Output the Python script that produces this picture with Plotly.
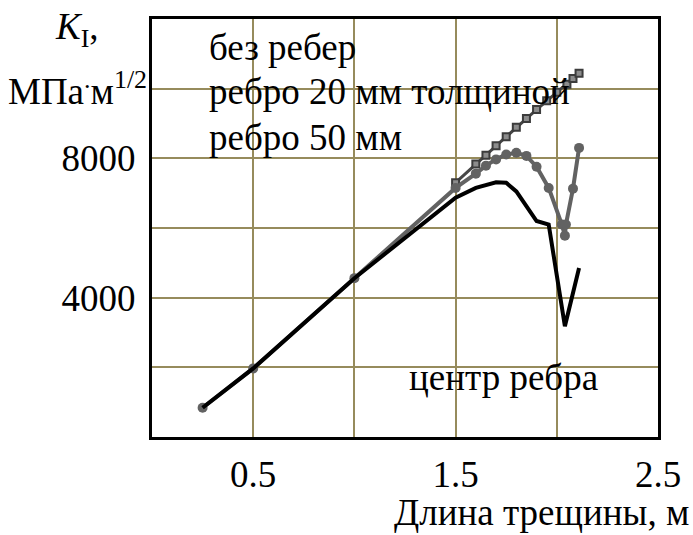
import plotly.graph_objects as go

# Crack length, m
x_no_rib = [1.5, 1.6, 1.65, 1.7, 1.75, 1.8, 1.85, 1.9, 1.95, 2.0, 2.05, 2.08, 2.11]
k_no_rib = [7300, 7840, 8090, 8360, 8620, 8890, 9140, 9400, 9650, 9900, 10125, 10290, 10440]

x_rib20 = [0.25, 0.5, 1.0, 1.5, 1.6, 1.65, 1.7, 1.75, 1.8, 1.85, 1.9, 1.96, 2.025, 2.04, 2.045, 2.08, 2.11]
k_rib20 = [840, 1970, 4560, 7150, 7560, 7790, 7970, 8110, 8160, 8070, 7760, 7150, 6100, 5780, 6100, 7130, 8300]

x_rib50 = [0.25, 0.5, 1.0, 1.5, 1.6, 1.7, 1.75, 1.8, 1.9, 1.96, 2.04, 2.11]
k_rib50 = [840, 1970, 4560, 6870, 7150, 7310, 7300, 7050, 6200, 6100, 3180, 4850]

x_ticks = [0.5, 1.0, 1.5, 2.0, 2.5]
x_ticktext = ["0.5", " ", "1.5", " ", "2.5"]
y_ticks = [2000, 4000, 6000, 8000, 10000, 12000]
y_ticktext = [" ", "4000", " ", "8000", " ", " "]

series_labels = ["без ребер", "ребро 20 мм толщиной", "ребро 50 мм"]
center_label = "центр ребра"
x_title = "Длина трещины, м"
y_title_1 = "<i>K</i><sub>I</sub>,"
y_title_2 = "МПа<sup>.</sup>м<sup>1/2</sup>"

FONT = "Liberation Serif"
FS = 37
GRID = "#968b5c"

L, R, T, B = 152, 35, 19, 98
W = 693 - L - R
H = 535 - T - B


def px(xp):
    return (xp - L) / W


def py(yp):
    return 1 - (yp - T) / H


fig = go.Figure()
fig.add_trace(go.Scatter(
    x=x_no_rib, y=k_no_rib, mode="lines+markers",
    line=dict(color="#474747", width=3),
    marker=dict(symbol="square", size=7, color="#8c8c8c", line=dict(color="#3c3c3c", width=2)),
    showlegend=False))
fig.add_trace(go.Scatter(
    x=x_rib20, y=k_rib20, mode="lines+markers",
    line=dict(color="#626262", width=4),
    marker=dict(symbol="circle", size=10, color="#626262"),
    showlegend=False))
fig.add_trace(go.Scatter(
    x=x_rib50, y=k_rib50, mode="lines",
    line=dict(color="black", width=4),
    showlegend=False))

tf = dict(family=FONT, size=FS, color="black")
for i, t in enumerate(series_labels):
    fig.add_annotation(x=px(207), y=py(47 + 45 * i), xref="paper", yref="paper", text=t,
                       showarrow=False, xanchor="left", yanchor="middle", font=tf)
fig.add_annotation(x=px(503), y=py(377), xref="paper", yref="paper",
                   text=center_label, showarrow=False, xanchor="center", yanchor="middle", font=tf)
fig.add_annotation(x=px(101), y=py(30), xref="paper", yref="paper",
                   text=y_title_1, showarrow=False, xanchor="right", yanchor="middle", font=tf)
fig.add_annotation(x=px(149), y=py(88), xref="paper", yref="paper",
                   text=y_title_2, showarrow=False, xanchor="right", yanchor="middle", font=tf)
fig.add_annotation(x=px(691), y=py(512), xref="paper", yref="paper",
                   text=x_title, showarrow=False, xanchor="right", yanchor="middle", font=tf)

fig.update_layout(
    width=693, height=535,
    margin=dict(l=L, r=R, t=T, b=B),
    paper_bgcolor="white", plot_bgcolor="white",
    font=tf,
)

fig.update_xaxes(range=[0, 2.5], tickvals=x_ticks, ticktext=x_ticktext,
                 showgrid=True, gridcolor=GRID, gridwidth=2, zeroline=False,
                 showline=True, linecolor="black", linewidth=3, mirror=True,
                 ticks="", ticklabelstandoff=3, tickfont=tf)
fig.update_yaxes(range=[0, 12000], tickvals=y_ticks, ticktext=y_ticktext,
                 showgrid=True, gridcolor=GRID, gridwidth=2, zeroline=False,
                 showline=True, linecolor="black", linewidth=3, mirror=True,
                 ticks="", ticklabelstandoff=6, tickfont=tf)

fig.write_html("out.html")
